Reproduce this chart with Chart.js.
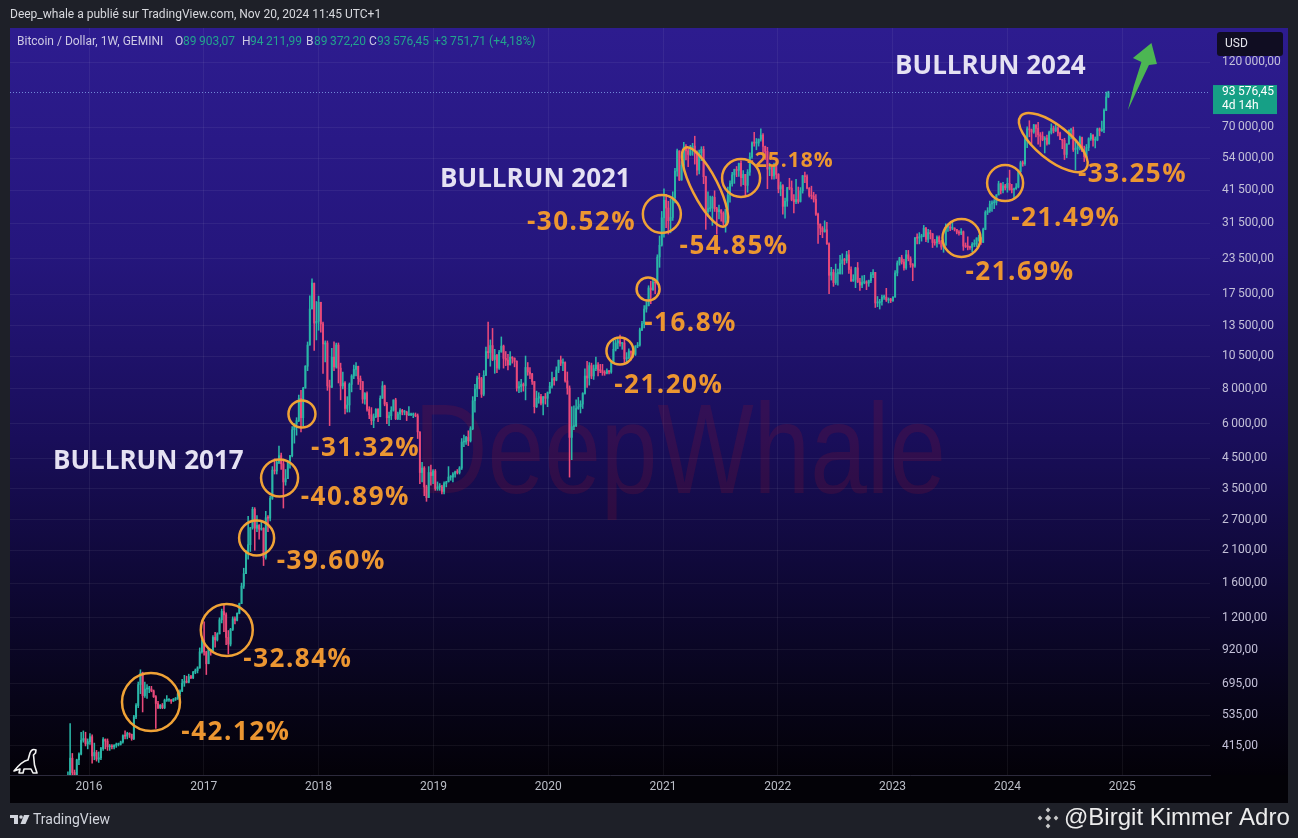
<!DOCTYPE html>
<html lang="en">
<head>
<meta charset="UTF-8">
<meta name="viewport" content="width=device-width, initial-scale=1.0">
<title>Bitcoin / Dollar, 1W, GEMINI</title>
<script src="https://cdn.jsdelivr.net/npm/chart.js"></script>
<style>
  html, body { margin: 0; padding: 0; background: #1e2028; overflow: hidden; }
  canvas { display: block; }
</style>
</head>
<body>
<canvas id="btcChart" width="1298" height="838"></canvas>
<script>
// Weekly candles, BTC/USD on Gemini. First week starts Monday 2015-10-26,
// each week opens at the previous week's close.
var firstWeek = Date.UTC(2015, 9, 26);
var firstOpen = 285;

var closes = [
  325,375,333,323,370,388,435,441,422,430,
  448,382,393,372,376,406,438,432,412,414,412,417,420,421,429,452,450,460,457,441,528,580,690,760,630,665,665,665,655,624,590,570,582,570,606,608,608,602,611,617,640,654,698,710,703,737,730,765,775,792,905,998,
  905,820,920,915,1020,1000,1050,1180,1265,1230,1020,965,1090,1190,1175,1245,1350,1560,1730,2060,2200,2530,2950,2520,2580,2500,2520,1980,2750,2740,3230,4080,4050,4350,4600,4300,3700,3800,4400,4600,5700,6000,6150,7400,6300,8050,9650,11500,15500,19200,13800,14000,
  16400,13700,11600,11700,8200,8100,10400,9600,11500,9500,8200,8400,6800,7000,8300,8900,9400,9650,8700,8500,7350,7700,6750,6450,6150,6350,6750,6350,7400,8200,7050,6300,6400,6700,7300,6250,6500,6700,6600,6600,6450,6450,6450,6450,6400,5600,4000,4150,3550,3250,4000,3900,
  4050,3500,3550,3550,3420,3650,3700,3850,3850,3950,4020,4000,4150,5150,5150,5350,5200,5750,7250,8000,8750,8700,7650,8950,10900,10800,11450,10200,10550,9500,10850,11400,10300,10150,9750,10400,10300,10050,8050,8150,8300,8200,9550,9200,9050,8500,6900,7400,7500,7100,7500,7400,7750,
  8180,8700,8600,9350,10150,9900,9950,8550,8050,5350,5850,5900,6800,6900,7050,7700,8900,8750,9700,8900,9450,9750,9350,9300,9150,9100,9300,9200,9950,11100,11700,11900,11650,11700,10250,10350,10950,10750,10650,11400,11500,13050,13750,15500,15950,18450,18200,19350,19250,23850,26300,33000,
  38200,35800,32250,33100,38900,48600,57500,45200,51000,59300,57500,55800,58200,59800,56200,49000,56600,58200,46400,34700,35600,35800,39100,35600,34700,35300,34300,31800,35400,39900,43800,47100,49300,48900,51800,46000,47300,43200,48200,54700,61500,61300,61300,63300,65500,59700,57200,49400,50100,46700,50800,47300,
  41900,43100,36300,37900,42400,42200,38400,37700,38400,37800,41300,46800,46400,42200,39700,39500,38500,34000,31300,30300,29400,29900,26600,20500,21000,19300,20800,20800,22600,23300,23200,24300,21500,19550,19800,21800,19400,18900,19300,19400,19200,19600,20600,21000,16300,16300,16500,17100,17100,16700,16850,16600,
  17100,20900,22700,23700,22900,21800,24300,23500,22400,22100,28000,27900,28200,28300,30300,27600,29200,28900,26900,26800,28100,27100,25900,26300,30500,30600,30300,30300,30000,29300,29100,29400,26100,26000,25900,25800,26500,26500,27900,27900,26900,30000,34500,35000,37000,37400,37500,39900,43800,41400,43000,42300,
  43900,41700,41600,42000,42600,48300,52100,51700,63200,69000,68400,67200,71300,69300,65700,64900,63100,63900,60900,66900,69300,67800,69600,66600,63200,62700,55800,60800,68200,68300,58100,58700,59500,64200,57300,54800,59100,63600,65600,62800,62900,69000,67900,68700,80400,89900,93576.45
];

var highs = [
  335,500,390,340,372,392,465,470,465,440,
  460,455,425,400,395,410,445,440,440,420,420,420,425,425,432,455,470,465,463,458,535,590,705,780,765,705,690,680,680,660,630,600,585,590,612,630,612,610,615,620,645,660,720,745,740,752,745,770,785,800,935,1000,
  1160,910,930,925,1035,1065,1060,1200,1290,1330,1250,1080,1100,1210,1210,1250,1355,1600,1810,2100,2780,2540,3000,2990,2800,2600,2650,2530,2900,2800,3280,4200,4480,4400,4980,4700,4400,4100,4400,4600,5850,6000,6300,7600,7900,8100,9700,11800,17300,19900,19200,16500,
  17250,16400,13900,11900,11900,8600,11200,11800,11700,11700,9900,9200,8500,7500,8400,9000,9750,9950,9650,8900,8500,7750,7800,6900,6850,6500,6800,6800,7550,8500,8250,7150,6600,6900,7300,7400,6600,6800,6750,6700,6650,6900,6550,6550,6550,6500,5600,4350,4200,3600,4200,4250,
  4100,4100,3700,3650,3600,3700,3720,4200,3900,4000,4050,4100,4200,5300,5450,5400,5650,5850,7500,8300,8900,9100,8800,9300,11300,13900,12000,13200,11100,10650,11000,12300,11500,10900,10650,10900,10450,10350,10100,8500,8650,8400,10500,9950,9550,9100,8500,7850,7750,7650,7500,7700,7800,
  8450,9200,8800,9600,10150,10500,10250,10000,9200,8200,6900,6950,7300,7450,7250,7750,9450,10050,9950,9900,9750,10400,9950,9800,9800,9300,9450,9300,10000,12100,12000,12100,12500,11750,12100,10800,11150,10950,10950,11450,11750,13250,14000,15950,16500,18800,19500,19900,19400,24300,28400,34800,
  41950,40100,37850,38500,40950,49700,58300,57500,52600,61700,60600,58600,60200,61200,64900,57500,57900,59500,59600,46600,40900,39500,39500,41300,36000,36700,35200,34700,35400,42600,44800,48100,49400,50500,52000,52900,48800,47300,49200,56500,62000,67000,63700,63500,69000,66300,59800,59200,51900,50500,51900,52100,
  47600,44400,43500,38900,42500,45800,44800,40000,45400,42600,42400,46900,48200,47100,42400,42900,40800,40000,34300,31400,30700,32200,31800,26800,21900,21500,22500,21600,24200,24500,23600,25000,25200,22000,20600,21900,22800,20000,20400,20500,19600,19700,21000,21500,21000,17200,16800,17400,17400,18400,17000,16950,
  17200,21300,23100,23800,24200,23400,25200,25200,23900,22600,28000,28900,29200,28800,31000,30500,30000,29800,29000,27600,28400,28400,27400,26800,31400,31000,31400,31800,30400,30000,29700,30200,29600,26800,28200,26100,26900,27500,28000,28600,28000,30300,35000,35900,37900,38000,38400,40000,44700,44000,44300,43600,
  45900,49000,43600,42200,43800,48600,52800,52900,64000,70100,73800,68900,71600,71300,72800,66900,67200,64700,65500,67700,71900,70600,71900,70100,67200,63300,63800,61000,68400,69300,70000,62700,61800,65000,64500,59800,60600,64100,66500,65600,64500,69400,69500,73600,81500,93500,94211.99
];

var lows = [
  283,320,305,315,315,355,385,428,415,405,
  420,360,370,366,362,370,400,405,400,400,405,405,410,415,418,425,440,440,445,435,437,520,570,640,550,620,615,645,650,620,480,565,565,565,565,600,600,590,600,605,610,630,650,680,700,700,725,725,755,760,790,895,
  880,750,820,880,905,940,990,1050,1150,1070,960,890,950,1080,1140,1170,1240,1350,1530,1730,1950,2080,2500,2100,2450,2300,2480,1850,1950,2450,2680,3200,3950,3950,4300,4100,2980,3600,3800,4150,4550,5100,5450,6100,5600,5900,8050,9300,11500,15500,11000,12000,
  13000,12800,9100,10000,7900,5900,8100,9300,9500,8400,7300,8000,6500,6600,6600,7800,8700,8900,8300,7950,7100,7050,6650,6250,5950,5800,6300,6100,6350,7400,6950,6000,5900,6200,6650,6200,6200,6200,6450,6450,6150,6400,6400,6300,6350,5300,3650,3700,3300,3150,3250,3600,
  3650,3450,3450,3450,3350,3350,3550,3700,3750,3700,3850,3950,3950,4100,4950,5050,5000,5150,5700,6600,7500,8000,7450,7550,8950,10300,9650,10100,9100,9150,9400,10850,9500,9700,9350,9750,9900,9600,7850,7750,7800,7850,7300,8950,8700,8300,6550,6850,7100,7000,6450,7050,6900,
  7700,8050,8250,8550,9150,9700,9300,8450,7650,3850,4450,5700,5850,6750,6550,6800,7650,8100,8250,8700,8650,9300,8900,9150,8950,8950,9050,9050,9100,9900,10950,11150,11400,11100,9900,9850,10250,10150,10400,10550,11250,11400,12950,13250,15100,15900,16200,18100,17600,19000,21900,26100,
  28100,30400,28850,29150,32300,37350,46600,44900,45000,49300,53300,50400,55300,55400,51500,47000,47500,53000,43800,30000,33400,34800,31000,34800,28800,32700,32100,31000,29300,35200,37600,42900,43900,46400,46500,42900,43400,39600,40800,46900,54000,59700,58000,59800,62300,55600,53500,42000,46800,45500,45500,45700,
  40600,39600,34000,32900,36300,41700,38000,34400,37100,37200,37600,40500,44200,41900,39200,38600,37600,33700,26700,28700,28000,29300,26500,17600,19700,18700,19000,18900,20700,20700,22400,22700,20800,19500,19500,18500,19300,18100,18500,19100,18200,18700,19300,20100,15700,15800,15500,16000,16800,16500,16300,16350,
  16500,17100,20400,22300,22500,21400,21500,23100,21900,19600,21900,26600,26600,27200,28200,27100,26900,27700,25800,26300,25900,26600,25400,24800,26300,29500,29700,29900,29600,28900,28600,28700,25200,25800,25300,25400,24900,26000,26000,27200,26500,26900,29900,33900,34500,34800,35600,36700,39900,40200,40600,41600,
  40800,41500,40600,38500,41800,42300,48300,50600,50900,59000,64600,60800,66500,64500,60700,59600,62500,56500,60200,60700,66100,66700,67500,65100,63100,58500,53500,54300,60700,63500,57200,49100,56100,57900,57200,52600,54600,57600,62700,59800,58900,62500,65100,67500,66800,80200,89372.2
];

var priceTicks = [415, 535, 695, 920, 1200, 1600, 2100, 2700, 3500, 4500, 6000, 8000, 10500, 13500, 17500, 23500, 31500, 41500, 54000, 70000, 120000];
var yearTicks = [2016, 2017, 2018, 2019, 2020, 2021, 2022, 2023, 2024, 2025];
var lastPrice = 93576.45;

// drawdown notes, anchored at [year, price]
var dipLabels = [
  { text: '-42.12%', at: [2017.28, 464] },
  { text: '-32.84%', at: [2017.82, 846] },
  { text: '-39.60%', at: [2018.11, 1905] },
  { text: '-40.89%', at: [2018.32, 3238] },
  { text: '-31.32%', at: [2018.41, 4860] },
  { text: '-21.20%', at: [2021.05, 8190] },
  { text: '-16.8%', at: [2021.24, 13690] },
  { text: '-30.52%', at: [2020.29, 31620] },
  { text: '-54.85%', at: [2021.62, 25920] },
  { text: '-25.18%', at: [2022.11, 52840], small: true },
  { text: '-21.69%', at: [2024.11, 20890] },
  { text: '-21.49%', at: [2024.51, 32680] },
  { text: '-33.25%', at: [2025.09, 47060] }
];
var rings = [
  { at: [2016.54, 597], r: 29 },
  { at: [2017.20, 1084], r: 26 },
  { at: [2017.46, 2325], r: 17.5 },
  { at: [2017.66, 3822], r: 18.5 },
  { at: [2017.855, 6494], r: 13.5 },
  { at: [2020.625, 10950], r: 13.5 },
  { at: [2020.87, 18300], r: 11.5 },
  { at: [2020.99, 34060], r: 19 },
  { at: [2021.68, 45890], r: 19 },
  { at: [2023.60, 27920], r: 19 },
  { at: [2023.98, 44030], r: 18 },
  { at: [2021.366, 42600], r: 44, ry: 13, rot: 63 },
  { at: [2024.40, 61590], r: 42, ry: 17, rot: 39 }
];
var runLabels = [
  { text: 'BULLRUN 2017', at: [2015.686, 4363] },
  { text: 'BULLRUN 2021', at: [2019.058, 45130] },
  { text: 'BULLRUN 2024', at: [2023.021, 115140] }
];
var arrowTail = [2025.05, 80650];

var UP = '#2ab6a7';
var DOWN = '#e9497a';
var ORANGE = '#ec9631';

function yearFrac(ms) {
  var y = new Date(ms).getUTCFullYear();
  var a = Date.UTC(y, 0, 1), b = Date.UTC(y + 1, 0, 1);
  return y + (ms - a) / (b - a);
}

function fmtPrice(v, dec) {
  var parts = v.toFixed(2).split('.');
  var whole = parts[0].replace(/\B(?=(\d{3})+(?!\d))/g, '\u2009');
  return whole + ',' + (dec ? parts[1] : '00');
}

var wickData = [], bodyData = [], candleColors = [];
var prev = firstOpen;
for (var i = 0; i < closes.length; i++) {
  var o = prev, c = closes[i];
  var x = yearFrac(firstWeek + i * 7 * 86400000);
  wickData.push({ x: x, y: [Math.min(lows[i], o, c), Math.max(highs[i], o, c)] });
  bodyData.push({ x: x, y: [Math.min(o, c), Math.max(o, c)] });
  candleColors.push(c >= o ? UP : DOWN);
  prev = c;
}

var chrome = {
  id: 'chrome',
  beforeDraw: function (chart) {
    var g, ctx = chart.ctx, a = chart.chartArea;
    var right = chart.scales.y.right;
    ctx.save();
    ctx.fillStyle = '#1e2028';
    ctx.fillRect(0, 0, chart.width, chart.height);
    g = ctx.createLinearGradient(0, a.top, 0, a.bottom);
    g.addColorStop(0, '#2d1c8f');
    g.addColorStop(0.3, '#25167d');
    g.addColorStop(0.55, '#190e5a');
    g.addColorStop(0.75, '#0e0834');
    g.addColorStop(0.9, '#070418');
    g.addColorStop(1, '#030108');
    ctx.fillStyle = g;
    ctx.fillRect(a.left, a.top, right - a.left, a.bottom - a.top);
    ctx.fillStyle = '#030207';
    ctx.fillRect(a.left, a.bottom, right - a.left, chart.scales.x.bottom - a.bottom);
    ctx.restore();
  },
  beforeDatasetsDraw: function (chart) {
    var ctx = chart.ctx, a = chart.chartArea;
    ctx.save();
    ctx.font = '128px "Liberation Sans"';
    ctx.textBaseline = 'alphabetic';
    var w = ctx.measureText('DeepWhale').width;
    ctx.translate(a.left + 404, a.top + 465);
    ctx.scale(532 / w, 1);
    ctx.fillStyle = 'rgba(150, 20, 45, 0.2)';
    ctx.fillText('DeepWhale', 0, 0);
    ctx.restore();
  },
  afterDatasetsDraw: function (chart) {
    var ctx = chart.ctx, a = chart.chartArea, xs = chart.scales.x, ys = chart.scales.y;
    function px(p) { return [xs.getPixelForValue(p[0]), ys.getPixelForValue(p[1])]; }
    ctx.save();

    // last price line
    var ly = Math.round(ys.getPixelForValue(lastPrice)) + 0.5;
    ctx.strokeStyle = 'rgba(130, 165, 235, 0.8)';
    ctx.lineWidth = 1;
    ctx.setLineDash([1, 2]);
    ctx.beginPath();
    ctx.moveTo(a.left, ly);
    ctx.lineTo(a.right, ly);
    ctx.stroke();
    ctx.setLineDash([]);

    // rings
    ctx.strokeStyle = '#f0a236';
    ctx.lineWidth = 2.5;
    rings.forEach(function (r) {
      var p = px(r.at);
      ctx.beginPath();
      ctx.ellipse(p[0], p[1], r.r, r.ry || r.r, (r.rot || 0) * Math.PI / 180, 0, Math.PI * 2);
      ctx.stroke();
    });

    // drawdown labels
    ctx.fillStyle = ORANGE;
    ctx.textAlign = 'center';
    ctx.textBaseline = 'middle';
    dipLabels.forEach(function (l) {
      var p = px(l.at);
      ctx.font = l.small ? 'bold 21px "Open Sans"' : 'bold 26px "Open Sans"';
      ctx.letterSpacing = l.small ? '1px' : '1.5px';
      ctx.fillText(l.text, p[0], p[1]);
    });

    // bull run titles
    ctx.fillStyle = '#e5e1f3';
    ctx.textAlign = 'left';
    ctx.font = 'bold 26px "Open Sans"';
    ctx.letterSpacing = '0px';
    runLabels.forEach(function (l) {
      var p = px(l.at);
      ctx.fillText(l.text, p[0], p[1]);
    });

    // green arrow
    var t = px(arrowTail);
    ctx.translate(t[0], t[1]);
    ctx.fillStyle = '#4cb653';
    ctx.beginPath();
    ctx.moveTo(0, 0);
    ctx.quadraticCurveTo(5, -24, 13.5, -48);
    ctx.lineTo(5, -52);
    ctx.lineTo(23.5, -67);
    ctx.lineTo(29, -46);
    ctx.lineTo(21, -45);
    ctx.quadraticCurveTo(10, -22, 0, 0);
    ctx.closePath();
    ctx.fill();
    ctx.restore();
  },
  afterDraw: function (chart) {
    var ctx = chart.ctx, a = chart.chartArea, ys = chart.scales.y;
    ctx.save();
    ctx.textBaseline = 'middle';
    ctx.textAlign = 'left';

    // header
    ctx.font = '12px Roboto';
    ctx.fillStyle = '#d8d9de';
    ctx.fillText('Deep_whale a publié sur TradingView.com, Nov 20, 2024 11:45 UTC+1', 10, 15);
    var hdr = [
      ['Bitcoin / Dollar, 1W, GEMINI', 17, '#cdc9e4'],
      ['O', 175, '#cdc9e4'], ['89\u2009903,07', 183, '#23a38d'],
      ['H', 242, '#cdc9e4'], ['94\u2009211,99', 250, '#23a38d'],
      ['B', 306, '#cdc9e4'], ['89\u2009372,20', 314, '#23a38d'],
      ['C', 369, '#cdc9e4'], ['93\u2009576,45', 377, '#23a38d'],
      ['+3\u2009751,71 (+4,18%)', 434, '#23a38d']
    ];
    hdr.forEach(function (h) {
      ctx.fillStyle = h[2];
      ctx.fillText(h[0], h[1], 42);
    });

    // currency box
    var r0 = a.right;
    ctx.fillStyle = '#100d22';
    ctx.beginPath();
    ctx.roundRect(r0 + 7, 32, 66, 24, 3);
    ctx.fill();
    ctx.fillStyle = '#e6e6ee';
    ctx.font = '12px Roboto';
    ctx.fillText('USD', r0 + 15, 44);

    // last price tag
    var py = ys.getPixelForValue(lastPrice);
    ctx.fillStyle = '#16a086';
    ctx.fillRect(r0 + 3, py - 7, 64, 29);
    ctx.fillStyle = '#ffffff';
    ctx.font = '12px Roboto';
    ctx.fillText(fmtPrice(lastPrice, true), r0 + 12, py);
    ctx.fillText('4d 14h', r0 + 12, py + 14);

    // dino logo
    ctx.strokeStyle = '#f2f2f2';
    ctx.lineWidth = 1.6;
    ctx.lineJoin = 'round';
    ctx.beginPath();
    ctx.moveTo(14, 771);
    ctx.quadraticCurveTo(22, 761, 28, 760);
    ctx.lineTo(30, 753);
    ctx.quadraticCurveTo(32, 748, 36, 750);
    ctx.lineTo(35.5, 753);
    ctx.lineTo(33.5, 755);
    ctx.lineTo(34.5, 765);
    ctx.lineTo(37, 773);
    ctx.lineTo(33, 773);
    ctx.lineTo(31, 769);
    ctx.lineTo(24, 769);
    ctx.lineTo(23, 773);
    ctx.lineTo(19, 773);
    ctx.lineTo(20, 769);
    ctx.closePath();
    ctx.stroke();

    // footer: TradingView mark
    ctx.fillStyle = '#d1d4dc';
    ctx.fillRect(10, 815, 8, 3);
    ctx.fillRect(14, 815, 4, 9);
    ctx.beginPath();
    ctx.arc(21, 817, 1.8, 0, Math.PI * 2);
    ctx.fill();
    ctx.beginPath();
    ctx.moveTo(24, 815);
    ctx.lineTo(29.5, 815);
    ctx.lineTo(25.5, 824);
    ctx.lineTo(20.5, 824);
    ctx.closePath();
    ctx.fill();
    ctx.font = '14px Roboto';
    ctx.fillText('TradingView', 33, 820);

    // footer: credit
    ctx.fillStyle = '#c9c9c9';
    [[1048, 818, 3.2], [1048, 810, 2.4], [1048, 826, 2.4], [1040, 818, 2.4], [1056, 818, 2.4]].forEach(function (d) {
      ctx.beginPath();
      ctx.moveTo(d[0], d[1] - d[2]);
      ctx.lineTo(d[0] + d[2], d[1]);
      ctx.lineTo(d[0], d[1] + d[2]);
      ctx.lineTo(d[0] - d[2], d[1]);
      ctx.closePath();
      ctx.fill();
    });
    ctx.fillStyle = '#ececec';
    ctx.font = '24px "Liberation Sans"';
    ctx.fillText('@Birgit Kimmer Adro', 1064, 818);
    ctx.restore();
  }
};

var ctx = document.getElementById('btcChart').getContext('2d');
var btcChart = new Chart(ctx, {
  type: 'bar',
  data: {
    datasets: [
      {
        label: 'body',
        data: bodyData,
        backgroundColor: candleColors,
        barThickness: 1.3,
        minBarLength: 1,
        grouped: false,
        order: 1
      },
      {
        label: 'wick',
        data: wickData,
        backgroundColor: candleColors,
        barThickness: 0.9,
        grouped: false,
        order: 2
      }
    ]
  },
  options: {
    responsive: false,
    animation: false,
    layout: { padding: { left: 10, top: 28, right: 10, bottom: 35 } },
    plugins: {
      legend: { display: false },
      tooltip: { enabled: false }
    },
    scales: {
      x: {
        type: 'linear',
        min: 2015.3118,
        max: 2025.7648,
        offset: false,
        afterBuildTicks: function (s) { s.ticks = yearTicks.map(function (v) { return { value: v }; }); },
        afterFit: function (s) { s.height = 28; },
        ticks: {
          color: '#bcbfc8',
          font: { family: 'Roboto', size: 12 },
          padding: 5,
          maxRotation: 0,
          autoSkip: false,
          callback: function (v) { return String(v); }
        },
        grid: { color: 'rgba(255,255,255,0.06)', drawTicks: false, offset: false },
        border: { display: true, color: '#2c2a3c' }
      },
      y: {
        type: 'logarithmic',
        position: 'right',
        min: 326.2,
        max: 159100,
        afterBuildTicks: function (s) { s.ticks = priceTicks.map(function (v) { return { value: v }; }); },
        afterFit: function (s) { s.width = 78; },
        ticks: {
          color: '#c3c0d8',
          font: { family: 'Roboto', size: 12 },
          padding: 12,
          callback: function (v) { return fmtPrice(v, false); }
        },
        grid: { color: 'rgba(255,255,255,0.06)', drawTicks: false },
        border: { display: false }
      }
    }
  },
  plugins: [chrome]
});
</script>
</body>
</html>
